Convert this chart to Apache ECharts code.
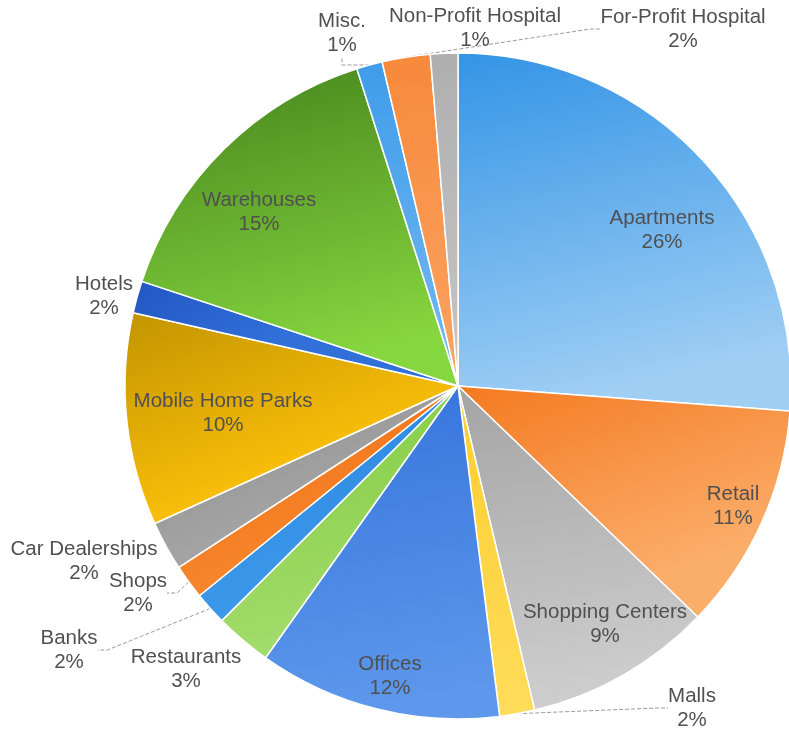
<!DOCTYPE html>
<html>
<head>
<meta charset="utf-8">
<script src="https://cdn.jsdelivr.net/npm/echarts@6/dist/echarts.min.js"></script>
<style>
html,body{margin:0;padding:0;background:#fff;}
#chart{width:789px;height:732px;}
</style>
</head>
<body>
<div id="chart"></div>
<script>
// Data (percent shares, clockwise from 12 o'clock)
const categories = ['Apartments','Retail','Shopping Centers','Malls','Offices','Restaurants','Banks','Shops','Car Dealerships','Mobile Home Parks','Hotels','Warehouses','Misc.','For-Profit Hospital','Non-Profit Hospital'];
const values = [26.2, 11.0, 9.1, 1.7, 11.8, 2.75, 1.6, 1.67, 2.4, 10.3, 1.56, 15.0, 1.25, 2.33, 1.33];

// Styles (kept apart from data)
const topColors    = ['#3394e6','#f47920','#a4a4a4','#fbcd2e','#3473dc','#82cb42','#2a86e0','#f26d12','#8a8a8a','#c29400','#2456c2','#45831c','#3f9ce9','#f7893a','#afafaf'];
const bottomColors = ['#a0cff4','#fbad6a','#cecece','#ffdc5a','#5d98ec','#a3dc6c','#3d99ea','#f6882e','#a8a8a8','#ffc20a','#3070d8','#86d63f','#74baf1','#fba463','#c6c6c6'];
const showLine = [false,false,false,true,false,false,true,true,false,false,false,false,true,true,false];
// label block centres in pixels
const labelPos = [[662,230],[733,506],[605,624],[692,708],[390,676],[186,669],[69,650],[138,593],[84,561],[223,413],[104,296],[259,212],[342,33],[683,29],[475,28]];

const chart = echarts.init(document.getElementById('chart'), null, {renderer:'canvas'});
const seriesData = categories.map((name, i) => ({
  name: name,
  value: values[i],
  itemStyle: {
    color: {type:'linear', x:0, y:0, x2:0.25, y2:1, colorStops:[{offset:0,color:topColors[i]},{offset:1,color:bottomColors[i]}]}
  },
  labelLine: {show: showLine[i]}
}));

chart.setOption({
  backgroundColor: '#ffffff',
  animation: false,
  series: [{
    type: 'pie',
    center: [458, 386],
    radius: 333,
    startAngle: 90,
    clockwise: true,
    avoidLabelOverlap: false,
    percentPrecision: 2,
    itemStyle: {borderColor:'#ffffff', borderWidth:1.5},
    label: {
      show: true,
      position: 'outside',
      fontFamily: 'Liberation Sans, Arial, sans-serif',
      fontSize: 20.5,
      lineHeight: 24,
      color: '#505050',
      align: 'center',
      formatter: p => p.name + '\n' + Math.round(p.percent) + '%'
    },
    labelLine: {
      length: 10, length2: 10,
      lineStyle: {color:'#9a9a9a', width:1, type:'dashed'}
    },
    labelLayout: function (params) {
      const p = labelPos[params.dataIndex];
      return {x: p[0], y: p[1], align: 'center', verticalAlign: 'middle'};
    },
    data: seriesData
  }]
});
</script>
</body>
</html>
